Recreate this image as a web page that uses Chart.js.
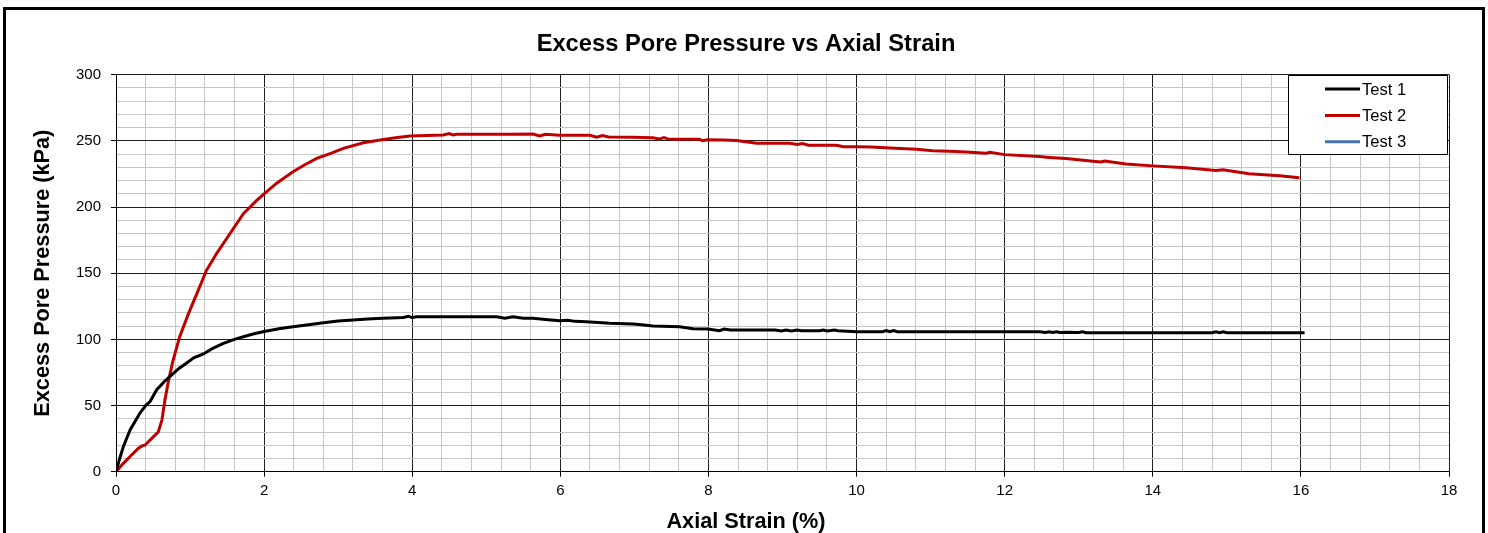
<!DOCTYPE html>
<html>
<head>
<meta charset="utf-8">
<title>Excess Pore Pressure vs Axial Strain</title>
<script src="https://cdn.jsdelivr.net/npm/chart.js"></script>
<style>
  body { margin: 0; background: #fff; }
  #myChart { display: block; }
</style>
</head>
<body>
<canvas id="myChart" width="1488" height="533"></canvas>
<script>

var chartTitle = "Excess Pore Pressure vs Axial Strain";
var xTitle = "Axial Strain (%)";
var yTitle = "Excess Pore Pressure (kPa)";

var seriesNames = ["Test 1", "Test 2", "Test 3"];
var seriesColors = ["#000000", "#c00000", "#4572a7"];

// Test 1 - axial strain (%) / excess pore pressure (kPa)
var test1Strain = [0, 0.05, 0.1, 0.19, 0.32, 0.4, 0.46, 0.55, 0.65, 0.73, 0.85, 0.95, 1.05, 1.18, 1.3, 1.45, 1.6, 1.72, 1.85, 2.0,
  2.2, 2.39, 2.6, 2.8, 3.0, 3.2, 3.4, 3.6, 3.88, 3.95, 4.0, 4.05, 4.5, 5.0, 5.14, 5.25, 5.36, 5.5, 5.63, 5.8,
  5.99, 6.1, 6.2, 6.35, 6.67, 6.98, 7.1, 7.25, 7.61, 7.79, 7.99, 8.15, 8.21, 8.3, 8.9, 8.98, 9.05, 9.12, 9.2, 9.25,
  9.5, 9.55, 9.6, 9.7, 9.75, 10.0, 10.35, 10.4, 10.45, 10.5, 10.55, 11.25, 12.47, 12.55, 12.6, 12.65, 12.7, 12.75, 12.85, 13.0,
  13.05, 13.1, 14.8, 14.85, 14.9, 14.95, 15.0, 16.05];
var test1Pressure = [0, 10, 19, 31.5, 44, 50, 53, 62, 68, 72, 78, 82, 86, 89, 93, 97, 100, 102, 104, 106,
  108, 109.5, 111, 112.6, 113.8, 114.6, 115.3, 115.9, 116.6, 117.5, 116.3, 117, 117, 117, 117, 116, 117, 116, 116, 115,
  114.1, 114.5, 113.6, 113.4, 112.1, 111.6, 111, 110.1, 109.6, 108.1, 107.8, 106.6, 107.8, 107, 107, 106.3, 107, 106.3, 107, 106.5,
  106.5, 107, 106.3, 107, 106.5, 105.8, 105.8, 106.6, 105.8, 106.6, 105.8, 105.8, 105.8, 105.2, 105.8, 105.2, 105.8, 105.2, 105.4, 105.2,
  105.8, 105, 105, 105.7, 105, 105.7, 105, 105];

// Test 2
var test2Strain = [0, 0.1, 0.21, 0.3, 0.35, 0.39, 0.48, 0.57, 0.62, 0.66, 0.71, 0.77, 0.86, 0.98, 1.11, 1.22, 1.36, 1.54, 1.72, 1.9,
  2.0, 2.17, 2.39, 2.55, 2.71, 2.9, 3.07, 3.34, 3.61, 3.8, 3.97, 4.2, 4.42, 4.5, 4.55, 4.6, 5.0, 5.32, 5.63, 5.72,
  5.8, 5.99, 6.4, 6.49, 6.57, 6.65, 6.98, 7.25, 7.34, 7.4, 7.45, 7.61, 7.88, 7.92, 7.99, 8.2, 8.38, 8.65, 9.1, 9.2,
  9.27, 9.35, 9.73, 9.82, 10.0, 10.2, 10.45, 10.81, 11.03, 11.25, 11.48, 11.75, 11.8, 12.0, 12.47, 12.6, 12.83, 13.19, 13.3, 13.35,
  13.64, 14.0, 14.45, 14.85, 14.95, 15.3, 15.71, 15.98];
var test2Pressure = [0, 6.3, 12.6, 17.6, 19.5, 20, 25, 30, 39, 54, 69, 84, 102, 119.6, 137, 152, 165, 180, 195, 205,
  210, 218, 226.7, 232, 236.8, 240.5, 244.3, 248.6, 251, 252.5, 253.6, 254, 254.4, 255.5, 254.5, 255, 255, 255, 255.2, 253.7,
  255, 254.2, 254.2, 252.7, 254, 253, 252.7, 252.3, 251.5, 252.5, 251.5, 251.2, 251.2, 250.2, 250.9, 250.7, 250.2, 248.2, 248.2, 247.3,
  248, 246.7, 246.7, 245.6, 245.6, 245.3, 244.6, 243.6, 242.6, 242.1, 241.6, 240.7, 241.3, 239.6, 238.1, 237.5, 236.6, 234.6, 234, 234.8,
  232.6, 231.1, 229.6, 227.6, 228.2, 225.1, 223.6, 222.1];

// Test 3 - nothing plotted, only in legend
var test3Strain = [];
var test3Pressure = [];

var xTicks = [0, 2, 4, 6, 8, 10, 12, 14, 16, 18];
var yTicks = [0, 50, 100, 150, 200, 250, 300];

var fontFam = 'Arial, "Liberation Sans", sans-serif';

function pairs(xs, ys) {
  var out = [];
  for (var i = 0; i < xs.length; i++) {
    out.push({x: xs[i], y: ys[i]});
  }
  return out;
}

function isMajor(v, list) {
  return list.some(function(t) { return Math.abs(t - v) < 1e-6; });
}

function gridColor(list) {
  return function(c) {
    return isMajor(c.tick.value, list) ? "#1e1e1e" : "#c6c6c6";
  };
}

function markColor(list) {
  return function(c) {
    return isMajor(c.tick.value, list) ? "#000" : "rgba(0,0,0,0)";
  };
}

function tickText(list) {
  return function(v) {
    return isMajor(v, list) ? String(Math.round(v)) : "";
  };
}

// white page, heavy outer frame
var frame = {
  id: "frame",
  beforeDraw: function(chart) {
    var ctx = chart.ctx;
    ctx.save();
    ctx.fillStyle = "#fff";
    ctx.fillRect(0, 0, chart.width, chart.height);
    ctx.strokeStyle = "#000";
    ctx.lineWidth = 3;
    ctx.strokeRect(4.5, 8.5, chart.width - 9, chart.height + 20);
    ctx.restore();
  }
};

// titles centred on the whole page, like the excel sheet
var titles = {
  id: "titles",
  afterDraw: function(chart) {
    var ctx = chart.ctx;
    var a = chart.chartArea;
    ctx.save();
    ctx.fillStyle = "#000";
    ctx.textAlign = "center";
    ctx.textBaseline = "middle";
    ctx.font = "bold 23.7px " + fontFam;
    ctx.fillText(chartTitle, chart.width / 2 + 2, 44.5);
    ctx.font = "bold 21.7px " + fontFam;
    ctx.fillText(xTitle, chart.width / 2 + 2, 522.5);
    ctx.translate(43.5, (a.top + a.bottom) / 2);
    ctx.rotate(-Math.PI / 2);
    ctx.fillText(yTitle, 0, 0);
    ctx.restore();
  }
};

var legendBox = {
  id: "legendBox",
  afterDatasetsDraw: function(chart) {
    var ctx = chart.ctx;
    var a = chart.chartArea;
    var left = Math.round(a.right - 161);
    var top = Math.round(a.top);
    ctx.save();
    ctx.fillStyle = "#fff";
    ctx.fillRect(left, top, 159, 79);
    ctx.strokeStyle = "#000";
    ctx.lineWidth = 1;
    ctx.strokeRect(left + 0.5, top + 0.5, 159, 79);
    ctx.font = "16.6px " + fontFam;
    ctx.textBaseline = "middle";
    chart.data.datasets.forEach(function(ds, i) {
      var y = top + 14 + i * 26.4;
      ctx.strokeStyle = ds.borderColor;
      ctx.lineWidth = 3;
      ctx.beginPath();
      ctx.moveTo(left + 37, y);
      ctx.lineTo(left + 72, y);
      ctx.stroke();
      ctx.fillStyle = "#000";
      ctx.fillText(ds.label, left + 74, y + 1);
    });
    ctx.restore();
  }
};

new Chart("myChart", {
  type: "scatter",
  data: {
    datasets: [
      {label: seriesNames[0], data: pairs(test1Strain, test1Pressure), borderColor: seriesColors[0], backgroundColor: seriesColors[0]},
      {label: seriesNames[1], data: pairs(test2Strain, test2Pressure), borderColor: seriesColors[1], backgroundColor: seriesColors[1]},
      {label: seriesNames[2], data: pairs(test3Strain, test3Pressure), borderColor: seriesColors[2], backgroundColor: seriesColors[2]}
    ]
  },
  options: {
    responsive: false,
    animation: false,
    showLine: true,
    elements: {
      point: {radius: 0, hoverRadius: 0},
      line: {borderWidth: 3, tension: 0}
    },
    layout: {padding: {left: 0, right: 39, top: 74.7, bottom: 0}},
    plugins: {
      legend: {display: false},
      tooltip: {enabled: false},
      title: {display: false}
    },
    scales: {
      x: {
        type: "linear",
        min: 0,
        max: 18,
        afterFit: function(s) { s.height = 61.3; },
        border: {color: "#000", width: 1},
        grid: {color: gridColor(xTicks), tickColor: markColor(xTicks), tickLength: 5, lineWidth: 1},
        ticks: {stepSize: 0.4, autoSkip: false, maxRotation: 0, padding: 5, color: "#000",
          font: {family: fontFam, size: 15}, callback: tickText(xTicks)}
      },
      y: {
        type: "linear",
        min: 0,
        max: 300,
        afterFit: function(s) { s.width = 116; },
        border: {color: "#000", width: 1},
        grid: {color: gridColor(yTicks), tickColor: markColor(yTicks), tickLength: 5, lineWidth: 1},
        ticks: {stepSize: 10, autoSkip: false, padding: 10, color: "#000",
          font: {family: fontFam, size: 15}, callback: tickText(yTicks)}
      }
    }
  },
  plugins: [frame, titles, legendBox]
});

</script>
</body>
</html>
